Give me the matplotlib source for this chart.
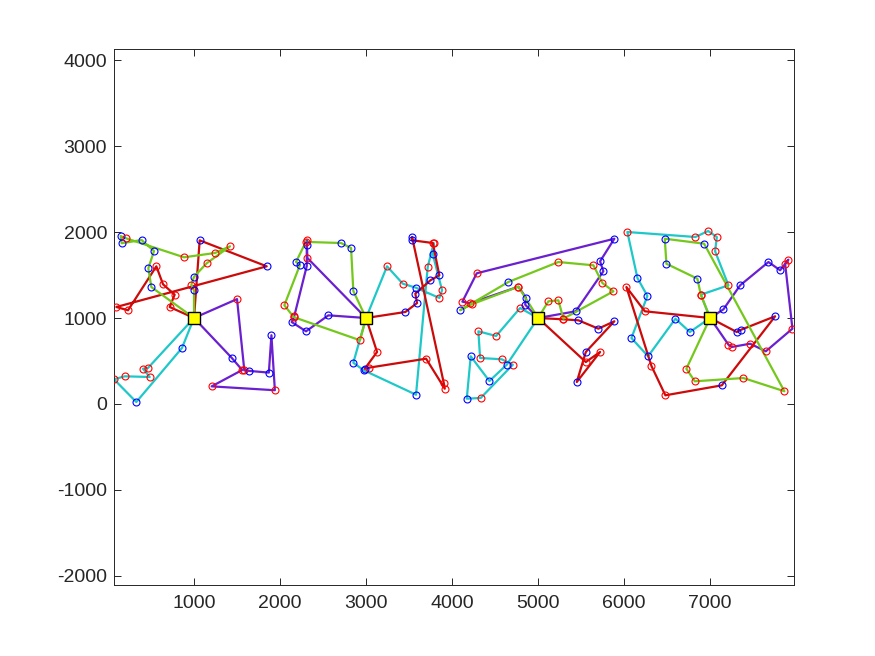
import matplotlib
matplotlib.use('Agg')
import matplotlib.pyplot as plt

# depots
depot_x = [1000, 3000, 5000, 7000]
depot_y = [1000, 1000, 1000, 1000]

# routes: customer points in visiting order (depot added at both ends)
# marks: colour of the customer marker, b = blue, r = red
cyan_1 = [(860, 651), (329, 23), (70, 287), (194, 322), (485, 314), (407, 410), (465, 419)]
cyan_1_marks = 'bbrrrrr'
purple_1 = [(1500, 1220), (1585, 390), (1640, 385), (1870, 365), (1900, 800), (1940, 160),
            (1205, 205), (1560, 395), (1440, 535)]
purple_1_marks = 'rrbbbrrrb'
red_1 = [(1066, 1903), (1845, 1601), (97, 1128), (233, 1090), (562, 1601), (640, 1392),
         (775, 1271), (717, 1128)]
red_1_marks = 'bbrrrrrr'
green_1 = [(504, 1360), (469, 1578), (535, 1779), (391, 1907), (159, 1869), (147, 1953),
           (209, 1927), (884, 1706), (1244, 1756), (1419, 1834), (1147, 1636), (1000, 1480),
           (969, 1387), (1000, 1320)]
green_1_marks = 'bbbbbbrrrrrbrb'

cyan_2 = [(3244, 1601), (3427, 1399), (3581, 1352), (3852, 1233), (3884, 1322), (3776, 1741),
          (3787, 1872), (3717, 1593), (3581, 108), (2973, 392), (2852, 480)]
cyan_2_marks = 'rrbrrbrrbbb'
purple_2 = [(2562, 1031), (2302, 845), (2136, 953), (2166, 1023), (2311, 1605), (2311, 1845),
            (2311, 1903), (2318, 1698)]
purple_2_marks = 'bbbrbbrr'
red_2 = [(3457, 1070), (3593, 1174), (3573, 1283), (3748, 1438), (3852, 1497), (3776, 1872),
         (3535, 1904), (3535, 1942), (3903, 248), (3915, 178), (3698, 527), (3031, 422),
         (2985, 410), (3128, 605)]
red_2_marks = 'bbbbbrbbrrrrbr'
green_2 = [(2852, 1314), (2826, 1814), (2709, 1872), (2300, 1885), (2186, 1651), (2233, 1620),
           (2050, 1148), (2160, 1010), (2930, 741)]
green_2_marks = 'bbbrbbrrr'

cyan_3 = [(4791, 1116), (4512, 791), (4306, 845), (4326, 535), (4578, 520), (4706, 457),
          (4333, 70), (4171, 62), (4217, 555), (4434, 267), (4636, 457)]
cyan_3_marks = 'rrrrrrrbbbb'
purple_3 = [(5438, 1078), (5759, 1543), (5721, 1659), (5887, 1922), (4287, 1520), (4120, 1190),
            (4209, 1171), (4771, 1364), (4860, 1236), (4850, 1155)]
purple_3_marks = 'bbbbrrrrbb'
red_3 = [(5290, 985), (5469, 973), (5701, 876), (5887, 962), (5555, 605), (5450, 256),
         (5721, 605), (5555, 488)]
red_3_marks = 'rbbbbbrr'
green_3 = [(5120, 1194), (5236, 1206), (5294, 992), (5876, 1310), (5748, 1407), (5643, 1613),
           (5236, 1651), (4655, 1419), (4093, 1090), (4230, 1160), (4771, 1364)]
green_3_marks = 'rrrrrrrbbrr'

cyan_4 = [(6764, 837), (6597, 992), (6279, 555), (6085, 767), (6271, 1256), (6155, 1465),
          (6038, 2000), (6829, 1942), (6977, 2012), (7078, 1942), (7058, 1776), (7213, 1380),
          (6892, 1271)]
cyan_4_marks = 'bbbbbbrrrrrrr'
purple_4 = [(7155, 1101), (7349, 1380), (7678, 1651), (7814, 1555), (7910, 1678), (7872, 1631),
            (7957, 876), (7648, 613), (7465, 701), (7252, 663), (7213, 690)]
purple_4_marks = 'bbbbrrrrrrr'
red_4 = [(6241, 1078), (6027, 1360), (6318, 442), (6480, 101), (7136, 217), (7756, 1020),
         (7361, 864), (7310, 837)]
red_4_marks = 'rrrrbbbb'
green_4 = [(6892, 1271), (6852, 1457), (6492, 1631), (6473, 1922), (6930, 1864), (7864, 148),
           (7387, 302), (6822, 264), (6724, 410)]
green_4_marks = 'rbbbbrrrr'

x_ticks = [1000, 2000, 3000, 4000, 5000, 6000, 7000]
y_ticks = [-2000, -1000, 0, 1000, 2000, 3000, 4000]

CYAN = '#1fc8c8'
PURPLE = '#6a1fd0'
RED = '#cc0a0a'
GREEN = '#74c81c'
AXIS_GRAY = '#262626'


def draw_route(ax, depot, points, color):
    xs = [depot[0]] + [p[0] for p in points] + [depot[0]]
    ys = [depot[1]] + [p[1] for p in points] + [depot[1]]
    ax.plot(xs, ys, '-', color=color, linewidth=1.6, zorder=2)


def draw_marks(ax, points, marks):
    for (x, y), m in zip(points, marks):
        c = '#0000ff' if m == 'b' else '#ff0000'
        ax.plot(x, y, 'o', markersize=5, markerfacecolor='none', markeredgecolor=c,
                markeredgewidth=0.8, zorder=3)


def main():
    plt.rcParams['font.family'] = ['Liberation Sans', 'DejaVu Sans']
    plt.rcParams['axes.unicode_minus'] = False  # plain hyphen like the original
    fig = plt.figure(figsize=(8.75, 6.56), dpi=100)
    ax = fig.add_axes([0.1303, 0.1082, 0.7771, 0.8171])

    routes = [
        (0, cyan_1, cyan_1_marks, CYAN), (0, purple_1, purple_1_marks, PURPLE),
        (0, red_1, red_1_marks, RED), (0, green_1, green_1_marks, GREEN),
        (1, cyan_2, cyan_2_marks, CYAN), (1, purple_2, purple_2_marks, PURPLE),
        (1, red_2, red_2_marks, RED), (1, green_2, green_2_marks, GREEN),
        (2, cyan_3, cyan_3_marks, CYAN), (2, purple_3, purple_3_marks, PURPLE),
        (2, red_3, red_3_marks, RED), (2, green_3, green_3_marks, GREEN),
        (3, cyan_4, cyan_4_marks, CYAN), (3, purple_4, purple_4_marks, PURPLE),
        (3, red_4, red_4_marks, RED), (3, green_4, green_4_marks, GREEN),
    ]
    for d, pts, marks, color in routes:
        draw_route(ax, (depot_x[d], depot_y[d]), pts, color)
    for d, pts, marks, color in routes:
        draw_marks(ax, pts, marks)

    ax.plot(depot_x, depot_y, 's', markersize=9, markerfacecolor='#ffff00',
            markeredgecolor='black', markeredgewidth=1.0, linestyle='none', zorder=4)

    ax.set_xlim(70, 7975)
    ax.set_ylim(-2105, 4128)
    ax.set_xticks(x_ticks)
    ax.set_yticks(y_ticks)
    ax.tick_params(direction='in', length=5, width=0.7, colors=AXIS_GRAY,
                   labelsize=14, top=True, right=True)
    ax.tick_params(axis='x', pad=7)
    ax.tick_params(axis='y', pad=5)
    for s in ax.spines.values():
        s.set_color(AXIS_GRAY)
        s.set_linewidth(0.7)

    fig.savefig('out.png', dpi=100)


if __name__ == '__main__':
    main()
